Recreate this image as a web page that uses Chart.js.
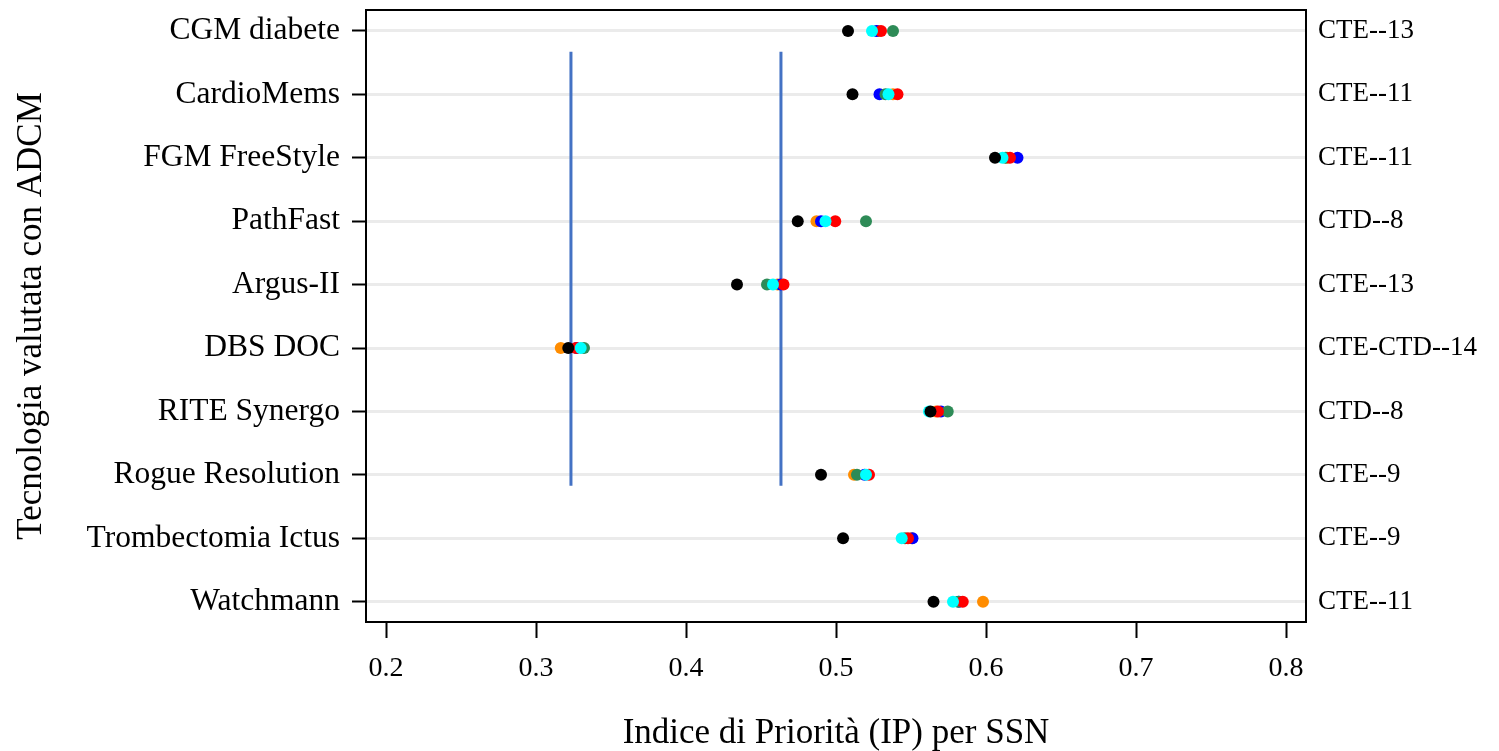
<!DOCTYPE html>
<html>
<head>
<meta charset="utf-8">
<script src="https://cdn.jsdelivr.net/npm/chart.js@4/dist/chart.umd.min.js"></script>
<style>
  body { margin: 0; background: #fff; }
</style>
</head>
<body>
<canvas id="canvas" width="1499" height="751"></canvas>
<script>
"use strict";

const categories = ['CGM diabete', 'CardioMems', 'FGM FreeStyle', 'PathFast', 'Argus-II',
  'DBS DOC', 'RITE Synergo', 'Rogue Resolution', 'Trombectomia Ictus', 'Watchmann'];
const rightLabels = ['CTE--13', 'CTE--11', 'CTE--11', 'CTD--8', 'CTE--13',
  'CTE-CTD--14', 'CTD--8', 'CTE--9', 'CTE--9', 'CTE--11'];
const xTicks = [0.2, 0.3, 0.4, 0.5, 0.6, 0.7, 0.8];

// valori IP per ciascuna tecnologia (uno per serie)
const serieNero = [0.508, 0.511, 0.606, 0.4745, 0.434, 0.3215, 0.563, 0.490, 0.5047, 0.565];
const serieCiano = [0.524, 0.535, 0.611, 0.493, 0.458, 0.3298, 0.562, 0.520, 0.5438, 0.578];
const serieRosso = [0.530, 0.541, 0.616, 0.4995, 0.465, 0.3267, 0.568, 0.522, 0.548, 0.5845];
const serieVerde = [0.538, 0.533, 0.613, 0.520, 0.454, 0.332, 0.5745, 0.514, 0.546, 0.5815];
const serieBlu = [0.527, 0.529, 0.621, 0.490, 0.463, 0.327, 0.570, 0.519, 0.551, 0.582];
const serieArancio = [0.528, 0.538, 0.614, 0.487, 0.461, 0.3165, 0.5667, 0.512, 0.5505, 0.598];

// soglie verticali e loro estensione (in righe)
const soglie = [0.3233, 0.4633];
const sogliaDa = 1.33;
const sogliaA = 8.17;

const FONT = "'Liberation Serif', 'DejaVu Serif', serif";

function toPoints(values) {
  return values.map((v, i) => ({ x: v, y: i + 1 }));
}

const series = [
  { data: serieNero, color: '#000000' },
  { data: serieCiano, color: '#00FFFF' },
  { data: serieRosso, color: '#FF0000' },
  { data: serieVerde, color: '#2E8B57' },
  { data: serieBlu, color: '#0000FF' },
  { data: serieArancio, color: '#FF8C00' }
];

const datasets = series.map(s => ({
  data: toPoints(s.data),
  backgroundColor: s.color,
  borderWidth: 0,
  pointRadius: 6,
  pointHoverRadius: 6,
  showLine: false
}));

soglie.forEach(v => {
  datasets.push({
    data: [{ x: v, y: sogliaDa }, { x: v, y: sogliaA }],
    borderColor: '#4472C4',
    borderWidth: 3,
    pointRadius: 0,
    showLine: true,
    order: 10
  });
});

// cornice attorno all'area del grafico
const framePlugin = {
  id: 'frame',
  afterDraw(chart) {
    const { ctx, chartArea: a } = chart;
    ctx.save();
    ctx.strokeStyle = '#000';
    ctx.lineWidth = 2;
    ctx.strokeRect(a.left, a.top, a.right - a.left, a.bottom - a.top);
    ctx.restore();
  }
};

const yMin = 0.67, yMax = 10.32;

function noPad(scale) {
  scale.paddingTop = 0;
  scale.paddingBottom = 0;
  scale.paddingLeft = 0;
  scale.paddingRight = 0;
}

new Chart(document.getElementById('canvas').getContext('2d'), {
  type: 'scatter',
  data: { datasets: datasets },
  options: {
    responsive: false,
    animation: false,
    layout: { padding: { top: 10, left: 0, right: 0, bottom: 0 } },
    plugins: { legend: { display: false }, tooltip: { enabled: false } },
    scales: {
      x: {
        type: 'linear',
        min: 0.2 - 20 / 1500,
        max: 0.8 + 20 / 1500,
        afterBuildTicks: scale => { scale.ticks = xTicks.map(v => ({ value: v })); },
        afterFit: scale => { scale.height = 129; noPad(scale); },
        grid: { drawOnChartArea: false, tickLength: 16, tickColor: '#000', tickWidth: 2 },
        border: { display: false },
        ticks: {
          padding: 14,
          color: '#000',
          font: { family: FONT, size: 28 },
          callback: v => String(v)
        },
        title: {
          display: true,
          text: 'Indice di Priorità (IP) per SSN',
          color: '#000',
          font: { family: FONT, size: 35 },
          padding: { top: 0, bottom: -4 }
        }
      },
      y: {
        type: 'linear',
        position: 'left',
        reverse: true,
        min: yMin,
        max: yMax,
        afterBuildTicks: scale => { scale.ticks = categories.map((c, i) => ({ value: i + 1 })); },
        afterFit: scale => { scale.width = 366; noPad(scale); },
        grid: { color: '#ebebeb', lineWidth: 3, tickLength: 14, tickColor: '#000', tickWidth: 2 },
        border: { display: false },
        ticks: {
          padding: 12,
          color: '#000',
          font: { family: FONT, size: 31.5 },
          callback: v => categories[Math.round(v) - 1]
        },
        title: {
          display: true,
          text: 'Tecnologia valutata con ADCM',
          color: '#000',
          font: { family: FONT, size: 35 },
          padding: { top: 11, bottom: 0 }
        }
      },
      y2: {
        type: 'linear',
        position: 'right',
        reverse: true,
        min: yMin,
        max: yMax,
        afterBuildTicks: scale => { scale.ticks = rightLabels.map((c, i) => ({ value: i + 1 })); },
        afterFit: scale => { scale.width = 193; noPad(scale); },
        grid: { display: false, drawTicks: false },
        border: { display: false },
        ticks: {
          padding: 12,
          color: '#000',
          font: { family: FONT, size: 27 },
          callback: v => rightLabels[Math.round(v) - 1]
        }
      }
    }
  },
  plugins: [framePlugin]
});
</script>
</body>
</html>
